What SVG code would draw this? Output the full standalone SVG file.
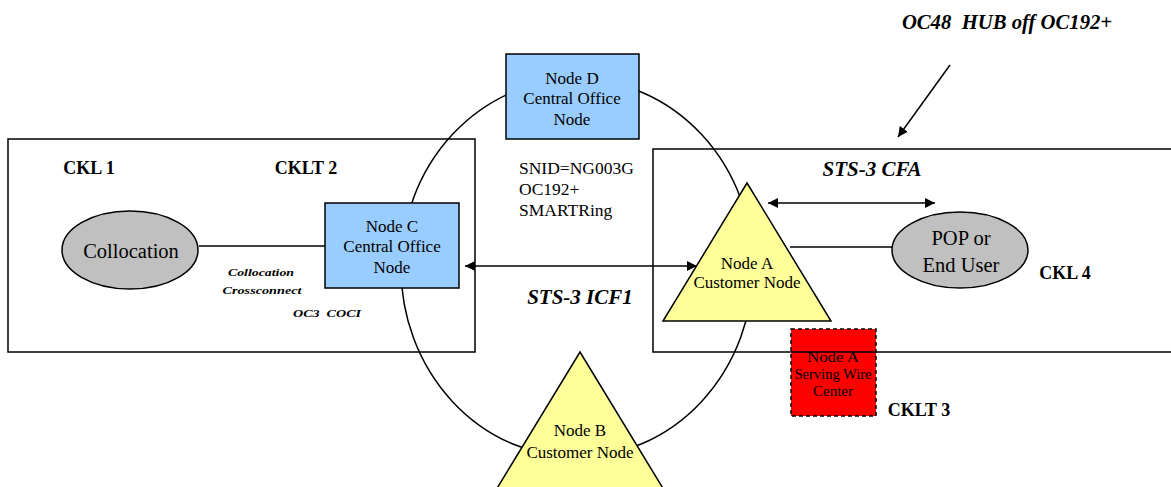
<svg xmlns="http://www.w3.org/2000/svg" width="1171" height="487" viewBox="0 0 1171 487">
<style>
text{font-family:"Liberation Serif","DejaVu Serif","Times New Roman",serif;fill:#000;text-anchor:middle;dominant-baseline:central}
.node{font-size:17px}
.lbl{font-size:18px;font-weight:bold}
.it{font-style:italic;font-weight:bold}
.box{fill:none;stroke:#000;stroke-width:1.5}
.blue{fill:#99CCFF;stroke:#000;stroke-width:1.5}
.yel{fill:#FFFF99;stroke:#000;stroke-width:1.5}
.gray{fill:#C0C0C0;stroke:#000;stroke-width:1.5}
.ln{fill:none;stroke:#000;stroke-width:1.5}
</style>
<defs>
<marker id="ah" viewBox="0 0 10 10" refX="10" refY="5" markerWidth="10" markerHeight="10" markerUnits="userSpaceOnUse" orient="auto-start-reverse">
<path d="M0,0 L10,5 L0,10 Z" fill="#000"/>
</marker>
</defs>
<rect width="1171" height="487" fill="#fff"/>

<g id="ring">
<ellipse cx="577" cy="268" rx="176" ry="189" class="ln"/>
</g>

<g id="node-serving">
<rect x="791" y="329" width="85" height="87" fill="#FF0000" stroke="#000" stroke-width="1.5" stroke-dasharray="4,3"/>
<text x="833" y="357" font-size="14" fill="#300" textLength="52" lengthAdjust="spacingAndGlyphs">Node A</text>
<text x="833" y="374" font-size="14" fill="#300" textLength="77" lengthAdjust="spacingAndGlyphs">Serving Wire</text>
<text x="833" y="391" font-size="14" fill="#300" textLength="40" lengthAdjust="spacingAndGlyphs">Center</text>
</g>

<g id="boxes">
<rect x="8" y="139" width="467" height="213" class="box"/>
<rect x="653" y="149" width="530" height="203" class="box"/>
</g>

<g id="connectors">
<line x1="199" y1="246" x2="325" y2="246" class="ln"/>
<line x1="790" y1="247" x2="892" y2="247" class="ln"/>
<line x1="465" y1="266" x2="697" y2="266" class="ln" marker-start="url(#ah)" marker-end="url(#ah)"/>
<line x1="768" y1="203" x2="935" y2="203" class="ln" marker-start="url(#ah)" marker-end="url(#ah)"/>
<line x1="950" y1="65" x2="898" y2="137" class="ln" marker-end="url(#ah)"/>
</g>

<g id="node-collocation">
<ellipse cx="130" cy="250" rx="68" ry="39" class="gray"/>
<text x="131" y="251" font-size="20.5">Collocation</text>
</g>

<g id="node-c">
<rect x="325" y="203" width="134" height="85" class="blue"/>
<text x="392" y="226" class="node">Node C</text>
<text x="392" y="246" class="node">Central Office</text>
<text x="392" y="267" class="node">Node</text>
</g>

<g id="node-d">
<rect x="506" y="54" width="133" height="85" class="blue"/>
<text x="572" y="78" class="node">Node D</text>
<text x="572" y="98" class="node">Central Office</text>
<text x="572" y="119" class="node">Node</text>
</g>

<g id="node-a">
<polygon points="747,183 831,321 663,321" class="yel"/>
<text x="747" y="263" class="node">Node A</text>
<text x="747" y="282" class="node">Customer Node</text>
</g>

<g id="node-b">
<polygon points="580,352 664,490 496,490" class="yel"/>
<text x="580" y="430" class="node">Node B</text>
<text x="580" y="452" class="node">Customer Node</text>
</g>

<g id="node-pop">
<ellipse cx="960" cy="250" rx="68" ry="38" class="gray"/>
<text x="961" y="238" font-size="20.5">POP or</text>
<text x="961" y="265" font-size="20.5">End User</text>
</g>

<g id="labels">
<text x="89" y="168" class="lbl">CKL 1</text>
<text x="306" y="168" class="lbl">CKLT 2</text>
<text x="1065" y="273" class="lbl">CKL 4</text>
<text x="919" y="410" class="lbl">CKLT 3</text>
<text x="261" y="272" class="it" font-size="11" textLength="66" lengthAdjust="spacingAndGlyphs">Collocation</text>
<text x="262" y="290" class="it" font-size="11" textLength="79" lengthAdjust="spacingAndGlyphs">Crossconnect</text>
<text x="327" y="313" class="it" font-size="11" textLength="68" lengthAdjust="spacingAndGlyphs" xml:space="preserve">OC3  COCI</text>
<text x="580" y="297" class="it" font-size="21">STS-3 ICF1</text>
<text x="872" y="169" class="it" font-size="21">STS-3 CFA</text>
<text x="1007" y="22" class="it" font-size="20.7" xml:space="preserve">OC48  HUB off OC192+</text>
<text x="519" y="168" font-size="17.5" style="text-anchor:start">SNID=NG003G</text>
<text x="519" y="189" font-size="17.5" style="text-anchor:start">OC192+</text>
<text x="519" y="210" font-size="17.5" style="text-anchor:start">SMARTRing</text>
</g>
</svg>
